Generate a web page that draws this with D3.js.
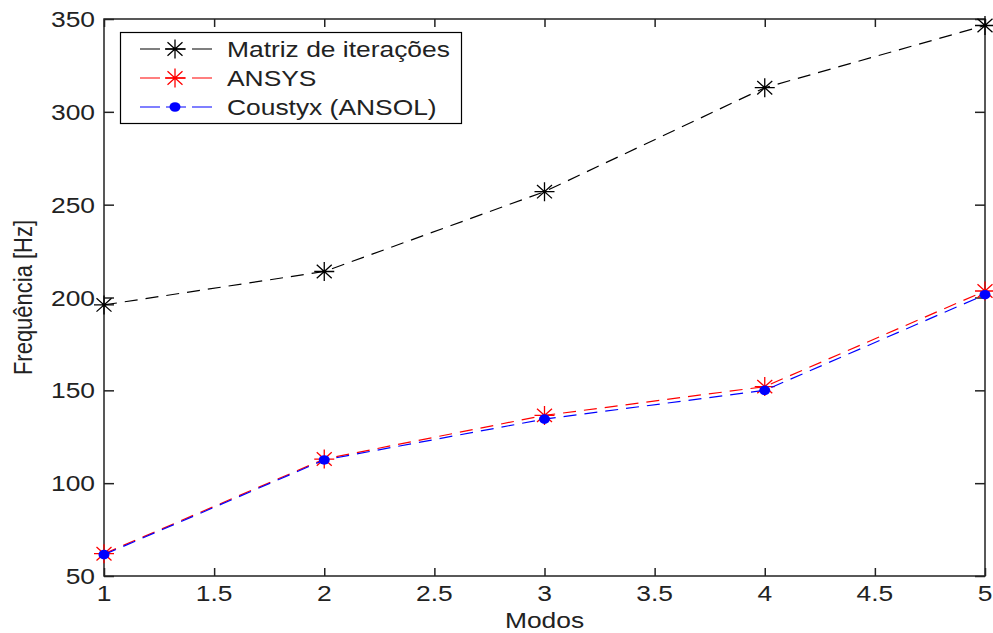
<!DOCTYPE html>
<html>
<head>
<meta charset="utf-8">
<script src="https://cdn.jsdelivr.net/npm/d3@7"></script>
<style>
  body { margin: 0; background: #fff; }
  svg { display: block; }
  text { font-family: "Liberation Sans", Arial, sans-serif; fill: #222; }
</style>
</head>
<body>
<div id="chart"></div>
<script>
// data
var modos = [1, 2, 3, 4, 5];
var matriz = [196, 214, 257, 313, 346.5];
var ansys = [62, 113, 136.5, 152, 203.5];
var coustyx = [61.5, 112.5, 134.5, 150, 201.5];
var seriesNames = ["Matriz de iterações", "ANSYS", "Coustyx (ANSOL)"];
var xTicks = [1, 1.5, 2, 2.5, 3, 3.5, 4, 4.5, 5];
var yTicks = [50, 100, 150, 200, 250, 300, 350];

var svgWidth = 993;
var svgHeight = 633;
var stretch = 1.2; // the picture's text is wider than it is tall

var plot = { left: 104, right: 985, top: 19, bottom: 576 };

var svg = d3.select("#chart")
  .append("svg")
  .attr("width", svgWidth)
  .attr("height", svgHeight);

var x = d3.scaleLinear().domain([1, 5]).range([plot.left, plot.right]);
var y = d3.scaleLinear().domain([50, 350]).range([plot.bottom, plot.top]);

var axisColor = "#222";

// frame
svg.append("rect")
  .attr("x", plot.left)
  .attr("y", plot.top)
  .attr("width", plot.right - plot.left)
  .attr("height", plot.bottom - plot.top)
  .attr("fill", "none")
  .attr("stroke", axisColor)
  .attr("stroke-width", 1.5);

function styleAxis(g) {
  g.select(".domain").remove();
  g.selectAll(".tick line").attr("stroke", axisColor).attr("stroke-width", 1.5);
  g.selectAll("text").remove();
}

// ticks pointing inward on all four sides
svg.append("g")
  .attr("transform", `translate(0, ${plot.bottom})`)
  .call(d3.axisBottom(x).tickValues(xTicks).tickSizeInner(-8).tickSizeOuter(0))
  .call(styleAxis);
svg.append("g")
  .attr("transform", `translate(0, ${plot.top})`)
  .call(d3.axisTop(x).tickValues(xTicks).tickSizeInner(-8).tickSizeOuter(0))
  .call(styleAxis);
svg.append("g")
  .attr("transform", `translate(${plot.left}, 0)`)
  .call(d3.axisLeft(y).tickValues(yTicks).tickSizeInner(-10).tickSizeOuter(0))
  .call(styleAxis);
svg.append("g")
  .attr("transform", `translate(${plot.right}, 0)`)
  .call(d3.axisRight(y).tickValues(yTicks).tickSizeInner(-10).tickSizeOuter(0))
  .call(styleAxis);

// tick labels
svg.selectAll(".xlab")
  .data(xTicks)
  .enter()
  .append("text")
  .attr("class", "xlab")
  .attr("transform", d => `translate(${x(d)}, 601) scale(${stretch}, 1)`)
  .attr("text-anchor", "middle")
  .attr("font-size", "22px")
  .text(d => String(d));

svg.selectAll(".ylab")
  .data(yTicks)
  .enter()
  .append("text")
  .attr("class", "ylab")
  .attr("transform", d => `translate(95, ${y(d) + 8}) scale(${stretch}, 1)`)
  .attr("text-anchor", "end")
  .attr("font-size", "22px")
  .text(d => String(d));

// axis titles
svg.append("text")
  .attr("transform", `translate(${(plot.left + plot.right) / 2}, 628) scale(${stretch}, 1)`)
  .attr("text-anchor", "middle")
  .attr("font-size", "22px")
  .text("Modos");

svg.append("text")
  .attr("transform", `translate(32, ${(plot.top + plot.bottom) / 2}) scale(${stretch}, 1) rotate(-90)`)
  .attr("text-anchor", "middle")
  .attr("font-size", "22px")
  .text("Frequência [Hz]");

// series
var series = [
  { name: seriesNames[0], values: matriz, color: "#000000", marker: "star" },
  { name: seriesNames[1], values: ansys, color: "#ff0000", marker: "star" },
  { name: seriesNames[2], values: coustyx, color: "#0000ff", marker: "dot" }
];

var line = d3.line()
  .x((d, i) => x(modos[i]))
  .y(d => y(d));

var starPath = "M-10,0H10M0,-9.5V9.5M-7.5,-6.7L7.5,6.7M-7.5,6.7L7.5,-6.7";

function drawMarker(g, type, color) {
  if (type === "star") {
    g.append("path")
      .attr("d", starPath)
      .attr("stroke", color)
      .attr("stroke-width", 1.3)
      .attr("fill", "none");
  } else {
    g.append("ellipse")
      .attr("rx", 5.5)
      .attr("ry", 4.8)
      .attr("fill", color);
  }
}

series.forEach(function(s) {
  svg.append("path")
    .datum(s.values)
    .attr("d", line)
    .attr("fill", "none")
    .attr("stroke", s.color)
    .attr("stroke-width", 1.2)
    .attr("stroke-dasharray", "13,8");

  s.values.forEach(function(v, i) {
    var g = svg.append("g")
      .attr("transform", `translate(${x(modos[i])}, ${y(v)})`);
    drawMarker(g, s.marker, s.color);
  });
});

// legend
var legend = svg.append("g");
legend.append("rect")
  .attr("x", 120.5)
  .attr("y", 32.5)
  .attr("width", 341)
  .attr("height", 91)
  .attr("fill", "#fff")
  .attr("stroke", "#000")
  .attr("stroke-width", 1.2);

series.forEach(function(s, i) {
  var cy = 49 + i * 29;
  legend.append("line")
    .attr("x1", 140)
    .attr("x2", 218)
    .attr("y1", cy)
    .attr("y2", cy)
    .attr("stroke", s.color)
    .attr("stroke-width", 1.2)
    .attr("stroke-dasharray", "20,6");
  var g = legend.append("g").attr("transform", `translate(175, ${cy})`);
  drawMarker(g, s.marker, s.color);
  legend.append("text")
    .attr("transform", `translate(227, ${cy + 8}) scale(${stretch}, 1)`)
    .attr("font-size", "22px")
    .text(s.name);
});
</script>
</body>
</html>
